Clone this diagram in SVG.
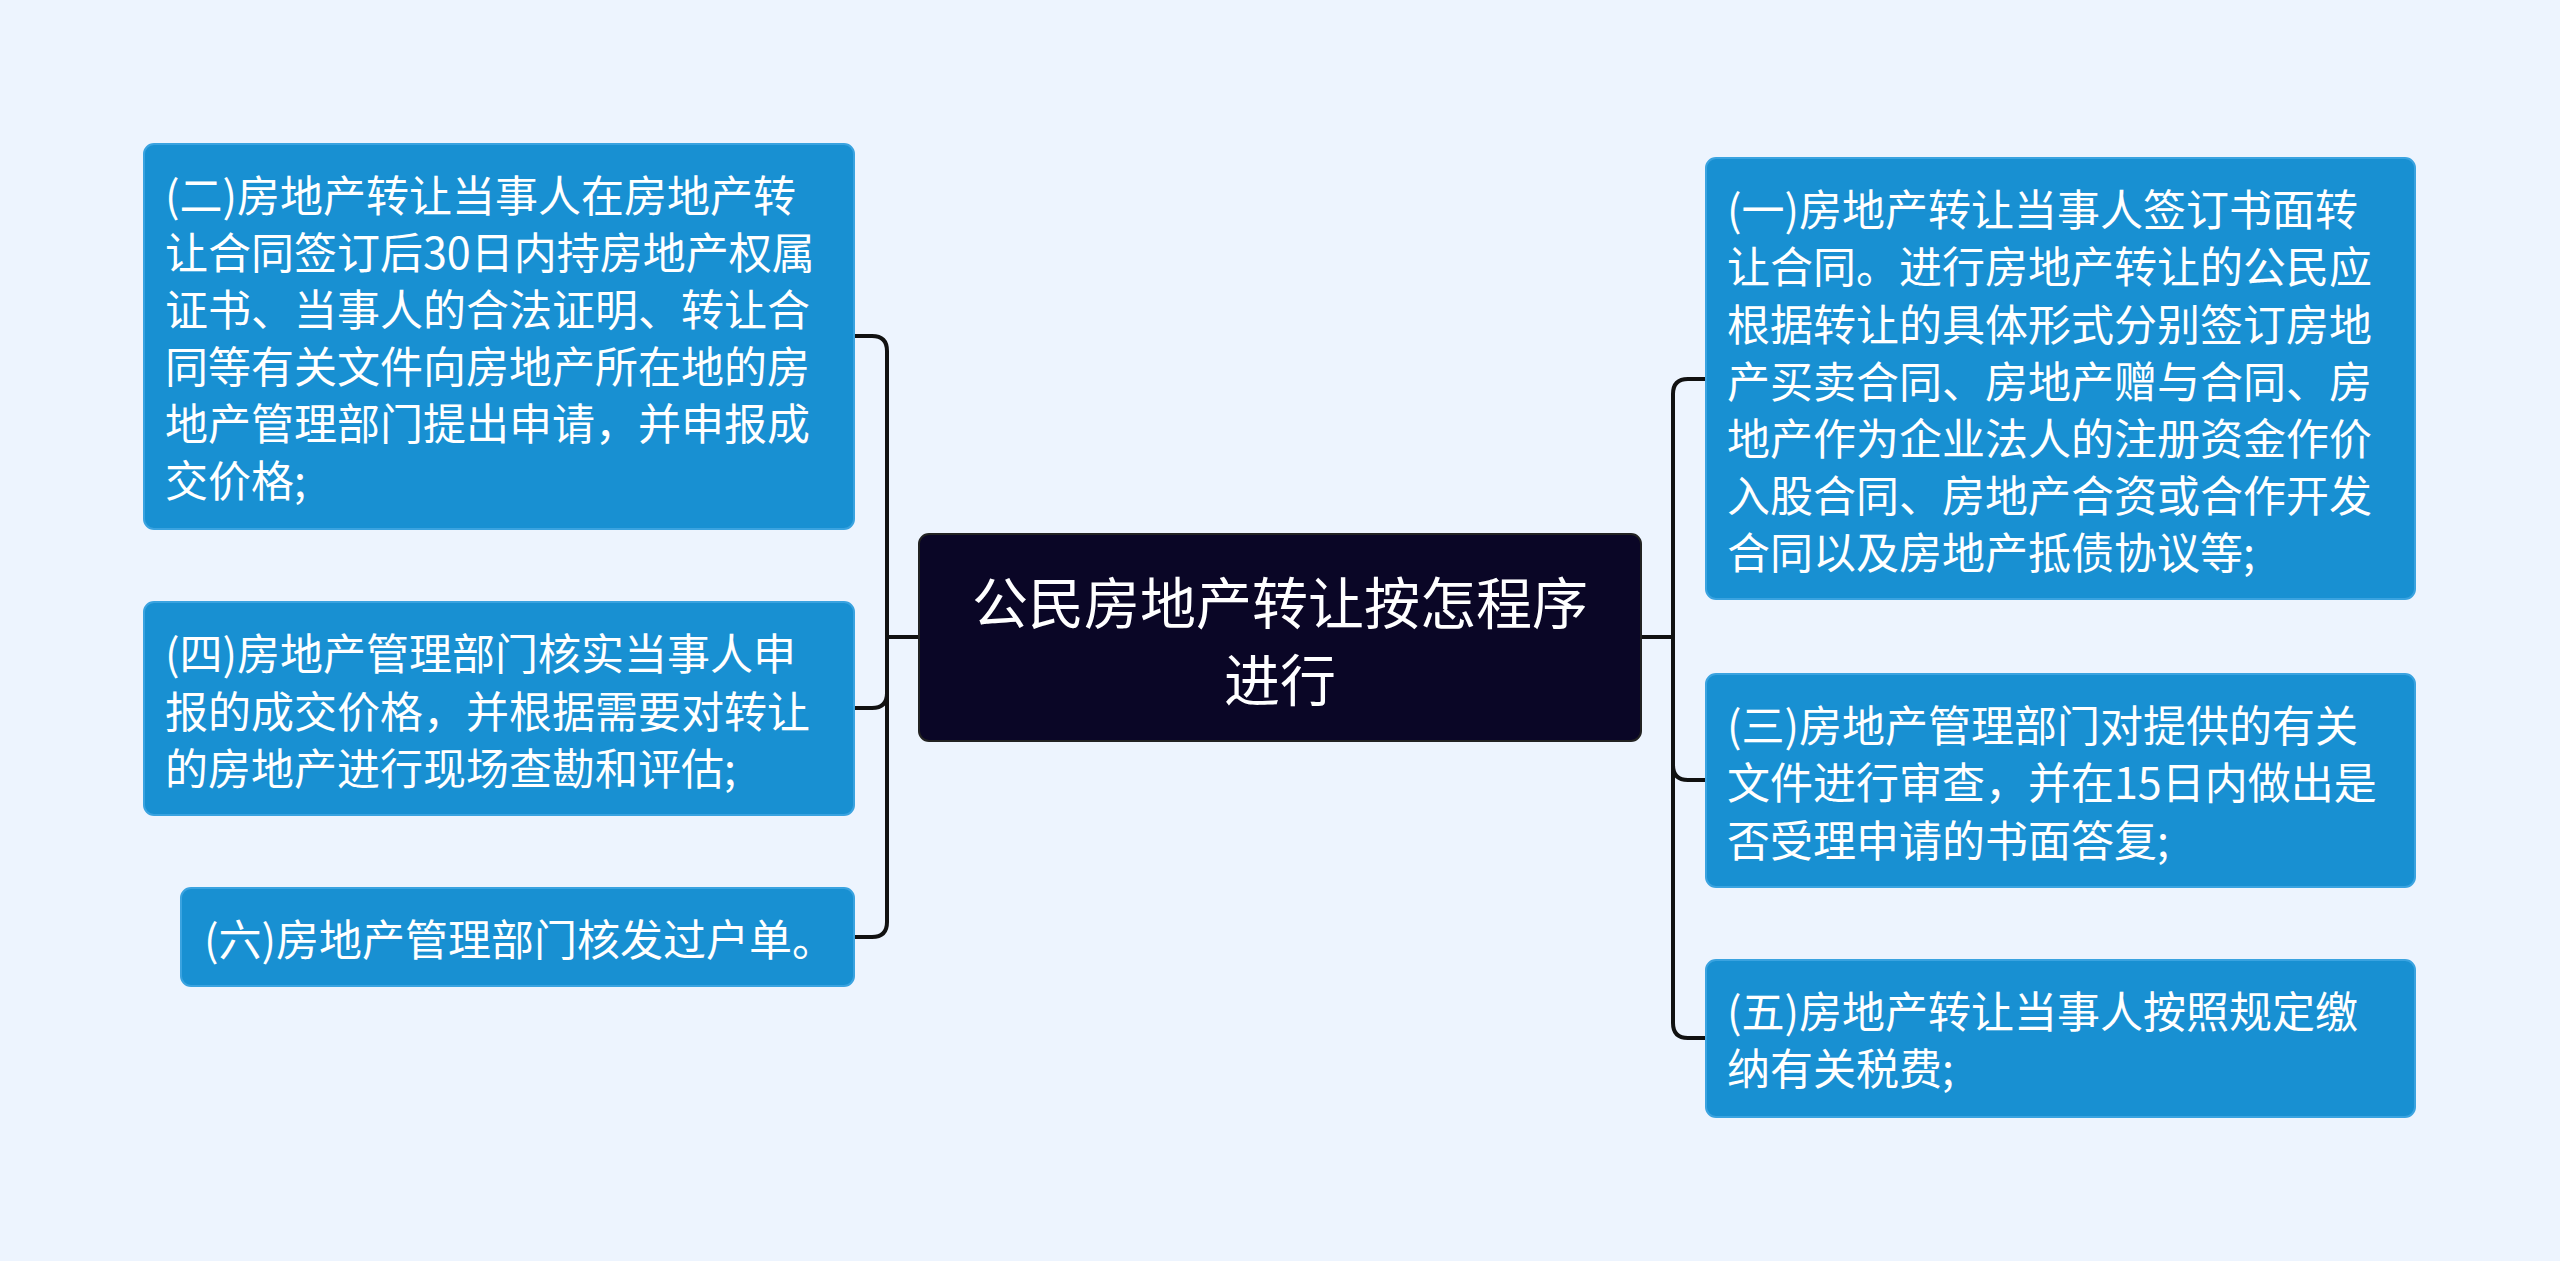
<svg xmlns="http://www.w3.org/2000/svg" width="2560" height="1261" viewBox="0 0 2560 1261">
<style>
.n{fill:#1890d2;stroke:#3aa3e0;stroke-width:2}
.t{font-family:"Noto Sans CJK SC","Noto Sans",sans-serif;font-size:43px;fill:#fff;dominant-baseline:central}
.c{fill:none;stroke:#111;stroke-width:4}
.h{font-family:"Noto Sans CJK SC",sans-serif;font-size:56px;fill:#fff;dominant-baseline:central}
</style>
<rect width="2560" height="1261" fill="#edf4fe"/>
<g id="connectors">
<path class="c" d="M919 637H887M887 351Q887 336 872 336H854M887 351V922Q887 937 872 937H854M854 708H872Q887 708 887 693"/>
<path class="c" d="M1641 637H1673M1673 394Q1673 379 1688 379H1706M1673 394V1023Q1673 1038 1688 1038H1706M1673 765Q1673 780 1688 780H1706"/>
</g>
<g id="center">
<rect x="919" y="534" width="722" height="207" rx="10" fill="#0a0626" stroke="#222" stroke-width="2"/>
<text class="h" x="1280" y="599" text-anchor="middle">公民房地产转让按怎程序</text>
<text class="h" x="1280" y="676" text-anchor="middle">进行</text>
</g>
<g id="l1">
<rect class="n" x="144" y="144" width="710" height="385" rx="10"/>
<text class="t" x="165" y="193">(二)房地产转让当事人在房地产转</text>
<text class="t" x="165" y="250">让合同签订后30日内持房地产权属</text>
<text class="t" x="165" y="307">证书、当事人的合法证明、转让合</text>
<text class="t" x="165" y="364">同等有关文件向房地产所在地的房</text>
<text class="t" x="165" y="421">地产管理部门提出申请，并申报成</text>
<text class="t" x="165" y="478">交价格;</text>
</g>
<g id="l2">
<rect class="n" x="144" y="602" width="710" height="213" rx="10"/>
<text class="t" x="165" y="651">(四)房地产管理部门核实当事人申</text>
<text class="t" x="165" y="709">报的成交价格，并根据需要对转让</text>
<text class="t" x="165" y="766">的房地产进行现场查勘和评估;</text>
</g>
<g id="l3">
<rect class="n" x="181" y="888" width="673" height="98" rx="10"/>
<text class="t" x="204" y="937">(六)房地产管理部门核发过户单。</text>
</g>
<g id="r1">
<rect class="n" x="1706" y="158" width="709" height="441" rx="10"/>
<text class="t" x="1727" y="207">(一)房地产转让当事人签订书面转</text>
<text class="t" x="1727" y="264">让合同。进行房地产转让的公民应</text>
<text class="t" x="1727" y="322">根据转让的具体形式分别签订房地</text>
<text class="t" x="1727" y="379">产买卖合同、房地产赠与合同、房</text>
<text class="t" x="1727" y="436">地产作为企业法人的注册资金作价</text>
<text class="t" x="1727" y="493">入股合同、房地产合资或合作开发</text>
<text class="t" x="1727" y="550">合同以及房地产抵债协议等;</text>
</g>
<g id="r2">
<rect class="n" x="1706" y="674" width="709" height="213" rx="10"/>
<text class="t" x="1727" y="723">(三)房地产管理部门对提供的有关</text>
<text class="t" x="1727" y="780">文件进行审查，并在15日内做出是</text>
<text class="t" x="1727" y="838">否受理申请的书面答复;</text>
</g>
<g id="r3">
<rect class="n" x="1706" y="960" width="709" height="157" rx="10"/>
<text class="t" x="1727" y="1009">(五)房地产转让当事人按照规定缴</text>
<text class="t" x="1727" y="1066">纳有关税费;</text>
</g>
</svg>
